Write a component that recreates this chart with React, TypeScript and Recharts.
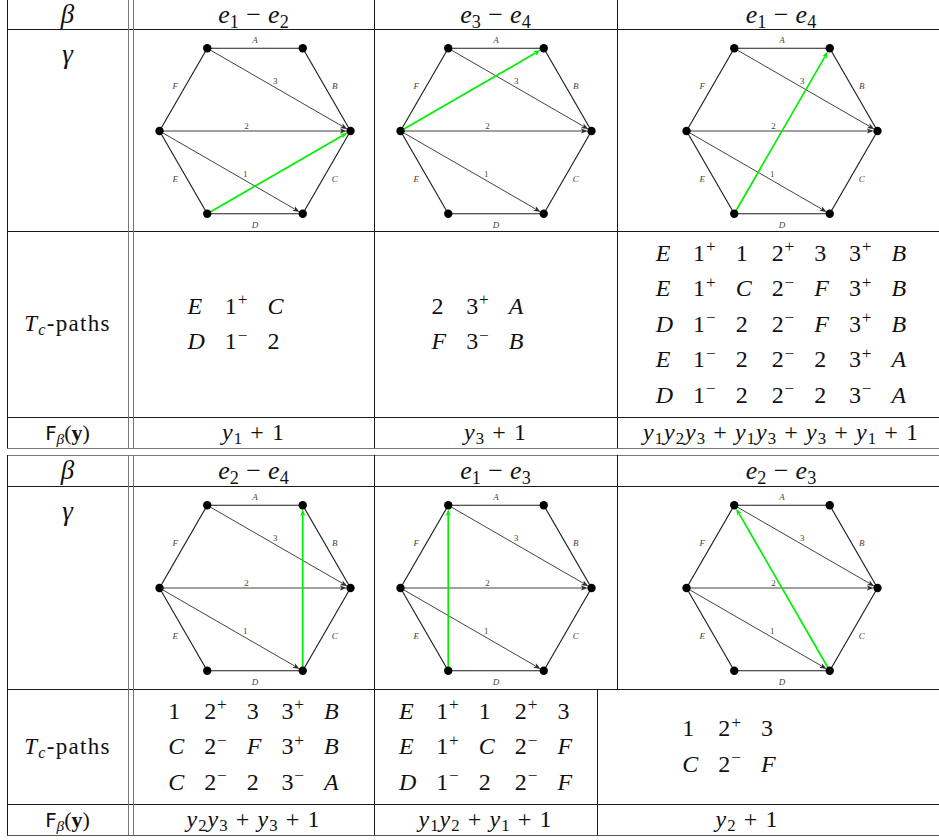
import React from "react";
import { ScatterChart, Scatter, XAxis, YAxis, ReferenceLine } from "recharts";

// ─── Data ──────────────────────────────────────────────────────────────────

// hexagon vertices (unit circumradius)
const VERTICES = [
  { id: "TL", x: -0.5, y: 0.866 },
  { id: "TR", x: 0.5, y: 0.866 },
  { id: "R", x: 1, y: 0 },
  { id: "BR", x: 0.5, y: -0.866 },
  { id: "BL", x: -0.5, y: -0.866 },
  { id: "L", x: -1, y: 0 },
];

const SIDES = [
  { from: "TL", to: "TR", label: "A" },
  { from: "TR", to: "R", label: "B" },
  { from: "R", to: "BR", label: "C" },
  { from: "BR", to: "BL", label: "D" },
  { from: "BL", to: "L", label: "E" },
  { from: "L", to: "TL", label: "F" },
];

const CHORDS = [
  { from: "L", to: "BR", label: "1" },
  { from: "L", to: "R", label: "2" },
  { from: "TL", to: "R", label: "3" },
];

const TOP_BETA = [[1, 2], [3, 4], [1, 4]];
const BOTTOM_BETA = [[2, 4], [1, 3], [2, 3]];

const TOP_GREEN = [["BL", "R"], ["L", "TR"], ["BL", "TR"]];
const BOTTOM_GREEN = [["BR", "TR"], ["BL", "TL"], ["BR", "TL"]];

const TOP_PATHS = [
  [["E", "1+", "C"], ["D", "1-", "2"]],
  [["2", "3+", "A"], ["F", "3-", "B"]],
  [
    ["E", "1+", "1", "2+", "3", "3+", "B"],
    ["E", "1+", "C", "2-", "F", "3+", "B"],
    ["D", "1-", "2", "2-", "F", "3+", "B"],
    ["E", "1-", "2", "2-", "2", "3+", "A"],
    ["D", "1-", "2", "2-", "2", "3-", "A"],
  ],
];
const BOTTOM_PATHS = [
  [
    ["1", "2+", "3", "3+", "B"],
    ["C", "2-", "F", "3+", "B"],
    ["C", "2-", "2", "3-", "A"],
  ],
  [
    ["E", "1+", "1", "2+", "3"],
    ["E", "1+", "C", "2-", "F"],
    ["D", "1-", "2", "2-", "F"],
  ],
  [["1", "2+", "3"], ["C", "2-", "F"]],
];

// each term lists the y-indices of a monomial; [] is the constant 1
const TOP_F = [[[1], []], [[3], []], [[1, 2, 3], [1, 3], [3], [1], []]];
const BOTTOM_F = [[[2, 3], [3], []], [[1, 2], [1], []], [[2], []]];

// ─── Hexagon chart ─────────────────────────────────────────────────────────

const FONT = '"Liberation Serif", "DejaVu Serif", serif';
const HEX_W = 230;
const HEX_H = 196;
const R_PX = 95.5;
const XR = HEX_W / 2 / R_PX;
const YR = HEX_H / 2 / R_PX;

const pt = (id: string) => VERTICES.find((v) => v.id === id)!;

const arrowShape = (color: string, width: number) => (props: any) => {
  const { x1, y1, x2, y2 } = props;
  const dx = x2 - x1;
  const dy = y2 - y1;
  const len = Math.hypot(dx, dy) || 1;
  const ux = dx / len;
  const uy = dy / len;
  const tx = x2 - ux * 3.6;
  const ty = y2 - uy * 3.6;
  const bx = tx - ux * 7;
  const by = ty - uy * 7;
  const px = -uy * 2.6;
  const py = ux * 2.6;
  return (
    <g>
      <line x1={x1} y1={y1} x2={bx + ux} y2={by + uy} stroke={color} strokeWidth={width} />
      <path d={`M${tx},${ty}L${bx + px},${by + py}L${bx + ux * 1.5},${by + uy * 1.5}L${bx - px},${by - py}Z`} fill={color} />
    </g>
  );
};

const renderLabel = (props: any) => {
  const text = props.payload?.text ?? props.text;
  const italic = props.payload?.italic ?? props.italic;
  return (
    <text
      x={props.cx}
      y={props.cy}
      textAnchor="middle"
      dominantBaseline="central"
      fontFamily={FONT}
      fontSize={9}
      fontStyle={italic ? "italic" : "normal"}
      fill="#444"
    >
      {text}
    </text>
  );
};

const renderDot = (props: any) => <circle cx={props.cx} cy={props.cy} r={4.2} fill="#000" />;

function Hexagon({ green, cx, cy }: { green: string[]; cx: number; cy: number }) {
  const sideOff = 9.5 / R_PX;
  const labels = SIDES.map((s) => {
    const a = pt(s.from);
    const b = pt(s.to);
    const k = 1 + sideOff / 0.866;
    return { x: ((a.x + b.x) / 2) * k, y: ((a.y + b.y) / 2) * k - 1.5 / R_PX, text: s.label, italic: true };
  }).concat(
    CHORDS.map((c) => {
      const a = pt(c.from);
      const b = pt(c.to);
      const dx = b.x - a.x;
      const dy = b.y - a.y;
      const len = Math.hypot(dx, dy);
      const t = c.label === "1" ? 0.58 : 0.455;
      const off = 5.5 / R_PX;
      return { x: a.x + dx * t - (dy / len) * off, y: a.y + dy * t + (dx / len) * off, text: c.label, italic: false };
    })
  );

  return (
    <div style={{ position: "absolute", left: cx - HEX_W / 2, top: cy - HEX_H / 2 }}>
      <ScatterChart width={HEX_W} height={HEX_H} margin={{ top: 0, right: 0, bottom: 0, left: 0 }}>
        <XAxis type="number" dataKey="x" domain={[-XR, XR]} hide allowDataOverflow />
        <YAxis type="number" dataKey="y" domain={[-YR, YR]} hide allowDataOverflow />
        {SIDES.map((s) => (
          <ReferenceLine key={s.label} segment={[pt(s.from), pt(s.to)]} stroke="#1e1e1e" strokeWidth={1.15} />
        ))}
        {CHORDS.map((c) => (
          <ReferenceLine key={c.label} segment={[pt(c.from), pt(c.to)]} shape={arrowShape("#2e2e2e", 0.9)} />
        ))}
        <ReferenceLine segment={[pt(green[0]), pt(green[1])]} shape={arrowShape("#00ee00", 1.7)} />
        <Scatter data={labels} shape={renderLabel} isAnimationActive={false} />
        <Scatter data={VERTICES} shape={renderDot} isAnimationActive={false} />
      </ScatterChart>
    </div>
  );
}

// ─── Math text ─────────────────────────────────────────────────────────────

const subStyle: React.CSSProperties = { fontSize: "0.7em", verticalAlign: "-0.25em", lineHeight: 0 };
const supStyle: React.CSSProperties = { fontSize: "0.72em", verticalAlign: "0.48em", lineHeight: 0, marginLeft: "0.05em" };
const opStyle: React.CSSProperties = { margin: "0 0.3em" };

function Token({ t }: { t: string }) {
  const base = t[0];
  const sign = t[1];
  return (
    <span style={{ whiteSpace: "nowrap" }}>
      <span style={{ fontStyle: /[A-Z]/.test(base) ? "italic" : "normal" }}>{base}</span>
      {sign && <span style={supStyle}>{sign === "+" ? "+" : "−"}</span>}
    </span>
  );
}

function Beta({ pair }: { pair: number[] }) {
  return (
    <span style={{ fontSize: 26, whiteSpace: "nowrap" }}>
      <i>e</i><span style={subStyle}>{pair[0]}</span>
      <span style={{ margin: "0 0.28em" }}>−</span>
      <i>e</i><span style={subStyle}>{pair[1]}</span>
    </span>
  );
}

function Poly({ terms }: { terms: number[][] }) {
  return (
    <span style={{ fontSize: 24, whiteSpace: "nowrap", letterSpacing: 1 }}>
      {terms.map((term, i) => (
        <React.Fragment key={i}>
          {i > 0 && <span style={opStyle}>+</span>}
          {term.length === 0
            ? "1"
            : term.map((k) => (
                <React.Fragment key={k}>
                  <i>y</i><span style={subStyle}>{k}</span>
                </React.Fragment>
              ))}
        </React.Fragment>
      ))}
    </span>
  );
}

function PathBlock({ rows, shift }: { rows: string[][]; shift: number }) {
  const ncol = Math.max(...rows.map((r) => r.length));
  return (
    <div
      style={{
        display: "grid",
        gridTemplateColumns: `repeat(${ncol}, auto)`,
        columnGap: 20,
        gridAutoRows: "35.5px",
        alignItems: "center",
        fontSize: 24,
        transform: `translateX(${shift}px)`,
      }}
    >
      {rows.flatMap((r, i) => r.map((t, j) => <Token key={`${i}-${j}`} t={t} />))}
    </div>
  );
}

function Cell({ x0, x1, y0, y1, children }: { x0: number; x1: number; y0: number; y1: number; children: React.ReactNode }) {
  return (
    <div
      style={{
        position: "absolute",
        left: x0,
        top: y0,
        width: x1 - x0,
        height: y1 - y0,
        display: "flex",
        alignItems: "center",
        justifyContent: "center",
      }}
    >
      {children}
    </div>
  );
}

const HLine = ({ y, x0, x1, c }: { y: number; x0: number; x1: number; c: string }) => (
  <div style={{ position: "absolute", left: x0, top: y, width: x1 - x0, height: 1, background: c }} />
);
const VLine = ({ x, y0, y1, c }: { x: number; y0: number; y1: number; c: string }) => (
  <div style={{ position: "absolute", left: x, top: y0, width: 1, height: y1 - y0, background: c }} />
);

// ─── One half of the table ─────────────────────────────────────────────────

function Half({
  rows,
  upperCols,
  lowerCols,
  hexY,
  beta,
  green,
  paths,
  polys,
}: {
  rows: number[];
  upperCols: number[][];
  lowerCols: number[][];
  hexY: number;
  beta: number[][];
  green: string[][];
  paths: string[][][];
  polys: number[][][];
}) {
  const [rb, rg, rp, rf, re] = rows;
  const maxTokens = Math.max(...paths.map((p) => Math.max(...p.map((r) => r.length))));
  return (
    <>
      <Cell x0={7} x1={128} y0={rb} y1={rg}>
        <span style={{ fontSize: 27, fontStyle: "italic" }}>β</span>
      </Cell>
      <Cell x0={7} x1={128} y0={rg + 5} y1={rg + 45}>
        <span style={{ fontSize: 27, fontStyle: "italic" }}>γ</span>
      </Cell>
      <Cell x0={7} x1={128} y0={rp} y1={rf}>
        <span style={{ fontSize: 23, whiteSpace: "nowrap", letterSpacing: 1.3 }}>
          <i>T</i><span style={{ ...subStyle, fontStyle: "italic" }}>c</span>-paths
        </span>
      </Cell>
      <Cell x0={7} x1={128} y0={rf} y1={re}>
        <span style={{ fontSize: 22, whiteSpace: "nowrap" }}>
          <span style={{ fontFamily: '"DejaVu Sans", sans-serif', fontSize: "0.9em" }}>F</span>
          <span style={{ ...subStyle, fontStyle: "italic" }}>β</span>(<b>y</b>)
        </span>
      </Cell>
      {upperCols.map(([a, b], i) => (
        <React.Fragment key={`u${i}`}>
          <Cell x0={a} x1={b} y0={rb} y1={rg}>
            <Beta pair={beta[i]} />
          </Cell>
          <Hexagon green={green[i]} cx={[255, 495.5, 781.5][i]} cy={hexY} />
        </React.Fragment>
      ))}
      {lowerCols.map(([a, b], i) => (
        <React.Fragment key={`l${i}`}>
          <Cell x0={a} x1={b} y0={rp} y1={rf}>
            <PathBlock
              rows={paths[i]}
              shift={Math.max(...paths[i].map((r) => r.length)) < maxTokens ? -18 : 0}
            />
          </Cell>
          <Cell x0={a} x1={b} y0={rf} y1={re}>
            <Poly terms={polys[i]} />
          </Cell>
        </React.Fragment>
      ))}
    </>
  );
}

// ─── App ───────────────────────────────────────────────────────────────────

export default function App() {
  const ink = "#1a1a1a";
  const grey = "#777";
  return (
    <div
      style={{
        position: "absolute",
        left: 0,
        top: 0,
        width: 939,
        height: 840,
        overflow: "hidden",
        background: "#fff",
        fontFamily: FONT,
        color: "#111",
      }}
    >
      {/* rules, upper table */}
      <HLine y={29} x0={7} x1={939} c={ink} />
      <HLine y={231} x0={7} x1={939} c={ink} />
      <HLine y={417} x0={7} x1={939} c={ink} />
      <HLine y={448} x0={7} x1={939} c={grey} />
      <VLine x={7} y0={0} y1={448} c={ink} />
      <VLine x={128} y0={0} y1={448} c={grey} />
      <VLine x={133} y0={0} y1={448} c={grey} />
      <VLine x={374} y0={0} y1={448} c={ink} />
      <VLine x={617} y0={0} y1={448} c={ink} />

      {/* rules, lower table */}
      <HLine y={455} x0={7} x1={939} c={grey} />
      <HLine y={486} x0={7} x1={939} c={ink} />
      <HLine y={689} x0={7} x1={939} c={ink} />
      <HLine y={804} x0={7} x1={939} c={ink} />
      <HLine y={835} x0={7} x1={939} c="#555" />
      <VLine x={7} y0={455} y1={835} c={ink} />
      <VLine x={128} y0={455} y1={835} c={grey} />
      <VLine x={133} y0={455} y1={835} c={grey} />
      <VLine x={374} y0={455} y1={835} c={ink} />
      <VLine x={617} y0={455} y1={689} c={ink} />
      <VLine x={597} y0={689} y1={835} c={ink} />

      <Half
        rows={[0, 29, 231, 417, 448]}
        upperCols={[[133, 374], [374, 617], [617, 945]]}
        lowerCols={[[133, 374], [374, 617], [617, 945]]}
        hexY={131}
        beta={TOP_BETA}
        green={TOP_GREEN}
        paths={TOP_PATHS}
        polys={TOP_F}
      />
      <Half
        rows={[455, 486, 689, 804, 835]}
        upperCols={[[133, 374], [374, 617], [617, 945]]}
        lowerCols={[[133, 374], [374, 597], [597, 897]]}
        hexY={588}
        beta={BOTTOM_BETA}
        green={BOTTOM_GREEN}
        paths={BOTTOM_PATHS}
        polys={BOTTOM_F}
      />
    </div>
  );
}
